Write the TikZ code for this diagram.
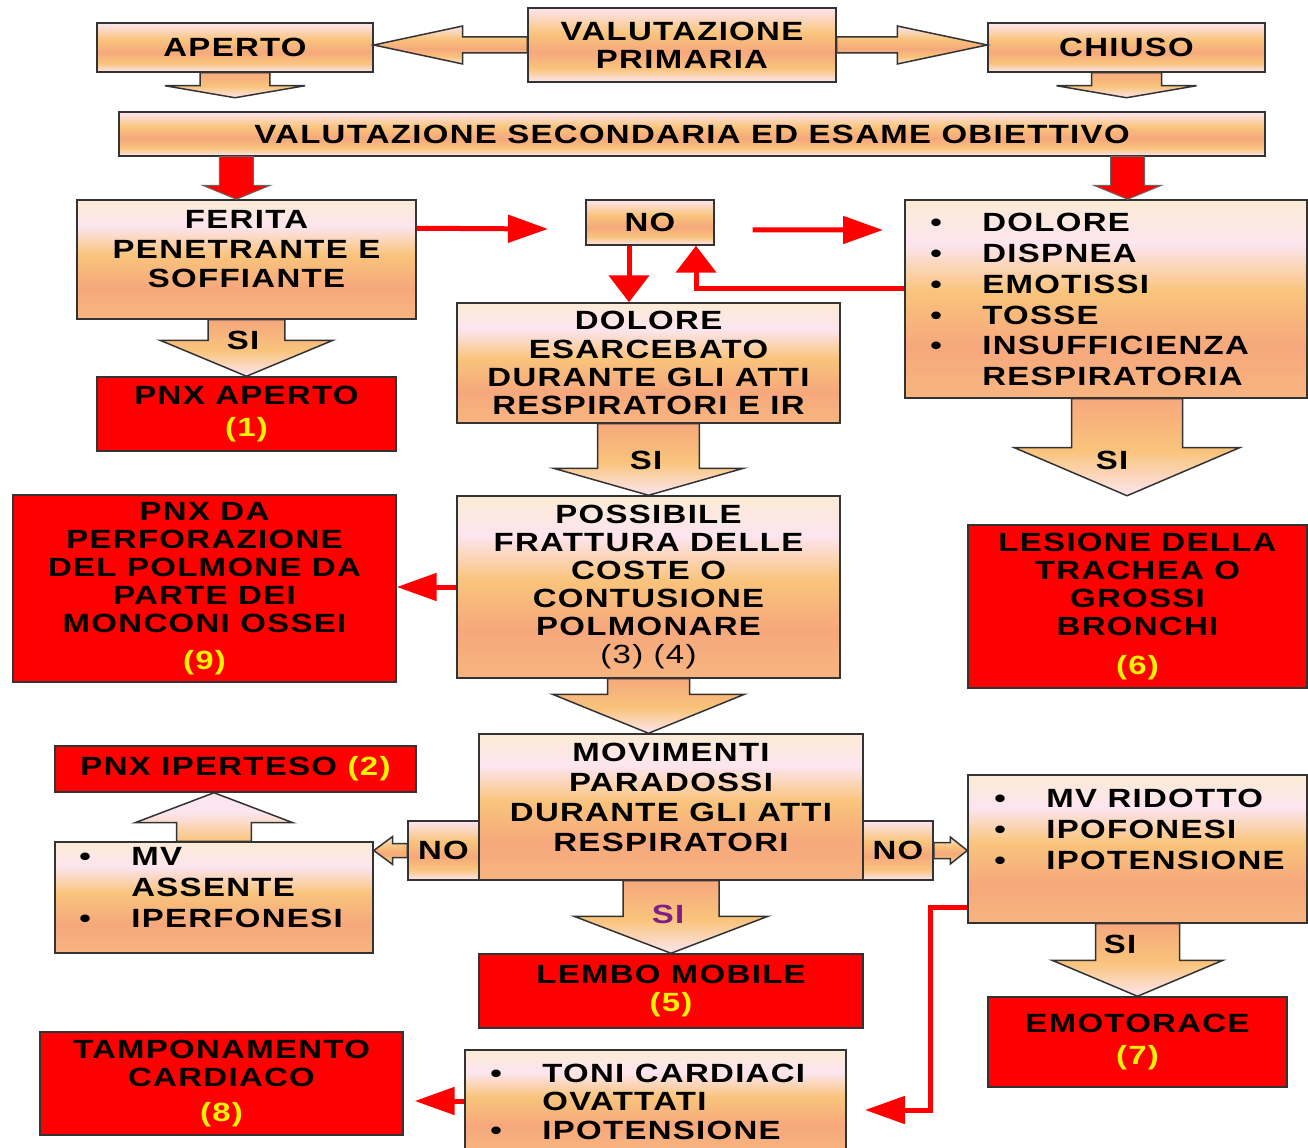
\documentclass[tikz,border=0pt]{standalone}
\usepackage{tikz}
\usepackage{fontspec}
\setmainfont{Liberation Sans}[FakeStretch=1.25, LetterSpace=5]
\usetikzlibrary{calc, arrows.meta}

\definecolor{pchtop}{HTML}{FCEBD5}
\definecolor{pchpink}{HTML}{FCE5EF}
\definecolor{pchmid}{HTML}{F9C47C}
\definecolor{pchlow}{HTML}{F6A87C}
\definecolor{pchbot}{HTML}{F7B580}
\definecolor{sipurple}{HTML}{7E1E86}

\pgfdeclareverticalshading{peach}{100bp}{color(0bp)=(pchbot); color(25bp)=(pchbot); color(38bp)=(pchlow); color(52bp)=(pchmid); color(64bp)=(pchpink); color(75bp)=(pchtop); color(100bp)=(pchtop)}
\pgfdeclareverticalshading{peachbar}{100bp}{color(0bp)=(pchpink); color(25bp)=(pchpink); color(34bp)=(pchmid); color(45bp)=(pchlow); color(58bp)=(pchmid); color(75bp)=(pchpink); color(100bp)=(pchpink)}
\pgfdeclareverticalshading{peachdown}{100bp}{color(0bp)=(pchpink); color(25bp)=(pchpink); color(48bp)=(pchmid); color(75bp)=(pchlow); color(100bp)=(pchlow)}
\pgfdeclareverticalshading{peachup}{100bp}{color(0bp)=(pchlow); color(25bp)=(pchmid); color(55bp)=(pchpink); color(75bp)=(pchpink); color(100bp)=(pchpink)}

\newcommand{\itm}{\makebox[1.04cm][l]{\textbullet}}
\newcommand{\itmx}{\hspace*{1.04cm}}
\newcommand{\blockarr}[6][arrdown]{%
        \coordinate (tmp_b) at ($(#3)!#6!(#2)$);
        \path[#1] ($(#2)!#4!90:(#3)$) -- ($(tmp_b)!#4!90:(#3)$) -- ($(tmp_b)!#5!90:(#3)$) -- (#3)
                -- ($(tmp_b)!#5!-90:(#3)$) -- ($(tmp_b)!#4!-90:(#3)$) -- ($(#2)!#4!-90:(#3)$) -- cycle;}

\begin{document}
\begin{tikzpicture}[x=0.02cm, y=-0.02cm, font=\fontsize{15}{16}\selectfont\bfseries,
        pbox/.style={draw=black!80, line width=0.03cm, shade, shading=peach, align=center, inner sep=0pt},
        pbar/.style={pbox, shading=peachbar},
        rbox/.style={draw=black!80, line width=0.03cm, fill=red, align=center, inner sep=0pt},
        ctxt/.style={anchor=north, inner sep=0pt, align=center, font=\fontsize{15}{17}\selectfont\bfseries},
        ltxt/.style={anchor=north west, inner sep=0pt, align=left, font=\fontsize{15}{17.6}\selectfont\bfseries},
        arrdown/.style={draw=black!80, line width=0.03cm, shade, shading=peachdown},
        arrup/.style={arrdown, shading=peachup},
        arrside/.style={arrdown, shading=peachbar},
        arrred/.style={draw=black!60, line width=0.02cm, fill=red},
        redh/.style={draw=red, line width=0.1cm, -{Triangle[length=0.8cm, width=0.54cm]}},
        redv/.style={draw=red, line width=0.1cm, -{Triangle[length=0.54cm, width=0.8cm]}}]

        \fill[white] (0,0) rectangle (1308,1148);
        \useasboundingbox (0,0) rectangle (1308,1148);

        \node[pbar, minimum width=5.52cm, minimum height=0.98cm](Ap) at (235, 47.5){APERTO};
        \node[pbar, minimum width=6.16cm, minimum height=1.48cm](VP) at (682, 45){VALUTAZIONE\\PRIMARIA};
        \node[pbar, minimum width=5.54cm, minimum height=0.98cm](Ch) at (1126.5, 47.5){CHIUSO};
        \node[pbar, minimum width=22.92cm, minimum height=0.88cm](VS) at (692, 134){VALUTAZIONE SECONDARIA ED ESAME OBIETTIVO};

        \node[pbox, minimum width=6.78cm, minimum height=2.38cm](Fer) at (246.5, 259.5){};
        \node[pbar, minimum width=2.56cm, minimum height=0.9cm](No) at (650, 222.5){NO};
        \node[pbox, minimum width=8.04cm, minimum height=3.96cm](Seg1) at (1106, 299){};
        \node[rbox, minimum width=5.98cm, minimum height=1.48cm](Pa) at (246.5, 414){PNX APERTO\\[2pt]\textcolor{yellow}{(1)}};
        \node[pbox, minimum width=7.66cm, minimum height=2.4cm](Dol) at (648.5, 363){DOLORE\\ESARCEBATO\\DURANTE GLI ATTI\\RESPIRATORI E IR};

        \node[rbox, minimum width=7.66cm, minimum height=3.74cm](Pd) at (204.5, 588.5){PNX DA\\PERFORAZIONE\\DEL POLMONE DA\\PARTE DEI\\MONCONI OSSEI\\[5pt]\textcolor{yellow}{(9)}};
        \node[pbox, minimum width=7.66cm, minimum height=3.64cm](Pos) at (648.5, 587){POSSIBILE\\FRATTURA DELLE\\COSTE O\\CONTUSIONE\\POLMONARE\\{\mdseries (3) (4)}};
        \node[rbox, minimum width=6.78cm, minimum height=3.26cm](Les) at (1137.5, 606.5){LESIONE DELLA\\TRACHEA O\\GROSSI\\BRONCHI\\[6pt]\textcolor{yellow}{(6)}};

        \node[rbox, minimum width=7.22cm, minimum height=0.92cm](Ip) at (235.5, 769){PNX IPERTESO \textcolor{yellow}{(2)}};
        \node[pbox, minimum width=7.68cm, minimum height=2.92cm](Mov) at (671, 807){};
        \node[pbar, minimum width=1.42cm, minimum height=1.18cm](NoL) at (443.5, 850.5){NO};
        \node[pbar, minimum width=1.4cm, minimum height=1.18cm](NoR) at (898, 850.5){NO};
        \node[pbox, minimum width=6.36cm, minimum height=2.22cm](Mvl) at (214, 897.5){};
        \node[pbox, minimum width=6.78cm, minimum height=2.96cm](Seg2) at (1137.5, 849){};
        \node[rbox, minimum width=7.68cm, minimum height=1.48cm](Le) at (671, 991){LEMBO MOBILE\\\textcolor{yellow}{(5)}};
        \node[rbox, minimum width=5.98cm, minimum height=1.8cm](Em) at (1137.5, 1042){EMOTORACE\\[2pt]\textcolor{yellow}{(7)}};
        \node[rbox, minimum width=7.26cm, minimum height=2.06cm](Tp) at (221.5, 1083.5){TAMPONAMENTO\\CARDIACO\\[4pt]\textcolor{yellow}{(8)}};
        \node[pbox, minimum width=7.62cm, minimum height=2.04cm](Toni) at (655.5, 1101){};

        \node[ctxt](Fer_t) at ($(Fer.north)+(0,10.5)$){FERITA\\PENETRANTE E\\SOFFIANTE};
        \node[ctxt](Mov_t) at ($(Mov.north)+(0,9.5)$){MOVIMENTI\\PARADOSSI\\DURANTE GLI ATTI\\RESPIRATORI};
        \node[ltxt](Seg1_t) at (930, 212.5){\itm DOLORE\\\itm DISPNEA\\\itm EMOTISSI\\\itm TOSSE\\\itm INSUFFICIENZA\\\itmx RESPIRATORIA};
        \node[ltxt](Seg2_t) at (994, 788.5){\itm MV RIDOTTO\\\itm IPOFONESI\\\itm IPOTENSIONE};
        \node[ltxt](Mvl_t) at (79, 847.5){\itm MV\\\itmx ASSENTE\\\itm IPERFONESI};
        \node[ltxt, font=\fontsize{15}{16.2}\selectfont\bfseries](Toni_t) at (490, 1063.5){\itm TONI CARDIACI\\\itmx OVATTATI\\\itm IPOTENSIONE};

        \coordinate (VP_l) at (VP.west -| Ap.east);
        \coordinate (VP_r) at (VP.east -| Ch.west);
        \blockarr[arrside]{VP.west}{VP_l}{0.16cm}{0.38cm}{1.78cm}
        \blockarr[arrside]{VP.east}{VP_r}{0.16cm}{0.38cm}{1.8cm}
        \coordinate (Ap_d) at ($(Ap.south)+(0,25)$);
        \coordinate (Ch_d) at ($(Ch.south)+(0,25)$);
        \blockarr{Ap.south}{Ap_d}{0.7cm}{1.4cm}{0.24cm}
        \blockarr{Ch.south}{Ch_d}{0.7cm}{1.4cm}{0.24cm}

        \coordinate (VS_l) at ($(VS.south west)+(118,0)$);
        \coordinate (VS_lb) at (VS_l |- Fer.north);
        \coordinate (VS_r) at ($(VS.south east)+(-138,0)$);
        \coordinate (VS_rb) at (VS_r |- Seg1.north);
        \blockarr[arrred]{VS_l}{VS_lb}{0.34cm}{0.68cm}{0.28cm}
        \blockarr[arrred]{VS_r}{VS_rb}{0.34cm}{0.68cm}{0.28cm}

        \blockarr{Fer.south}{Pa.north}{0.77cm}{1.73cm}{0.72cm}
        \blockarr{Dol.south}{Pos.north}{1.02cm}{1.9cm}{0.54cm}
        \coordinate (Pos_b) at (Pos.south |- Mov.north);
        \blockarr{Pos.south}{Pos_b}{0.82cm}{1.92cm}{0.78cm}
        \coordinate (Seg1_s) at ($(Seg1.south)+(21,0)$);
        \coordinate (Seg1_b) at ($(Seg1_s)+(0,97)$);
        \blockarr{Seg1_s}{Seg1_b}{1.11cm}{2.25cm}{0.96cm}
        \blockarr{Mov.south}{Le.north}{0.96cm}{1.94cm}{0.74cm}
        \blockarr{Seg2.south}{Em.north}{0.84cm}{1.71cm}{0.72cm}
        \coordinate (Mvl_b) at (Mvl.north |- Ip.south);
        \blockarr[arrup]{Mvl.north}{Mvl_b}{0.75cm}{1.58cm}{0.6cm}
        \coordinate (NoR_b) at (NoR.east -| Seg2.west);
        \blockarr[arrside]{NoR.east}{NoR_b}{0.16cm}{0.27cm}{0.34cm}
        \coordinate (NoL_b) at (NoL.west -| Mvl.east);
        \blockarr[arrside]{NoL.west}{NoL_b}{0.14cm}{0.28cm}{0.38cm}

        \node(Fer_si) at (243, 340){SI};
        \node(Dol_si) at (646, 460){SI};
        \node(Seg1_si) at (1112, 460){SI};
        \node[text=sipurple](Mov_si) at (668, 914){SI};
        \node(Seg2_si) at (1120, 944){SI};

        \coordinate (Fer_r) at (548, 229);
        \coordinate (No_r) at (883, 230);
        \coordinate (No_d) at ($(No.south)+(-21,0)$);
        \coordinate (Toni_r) at (865, 1110);
        \draw[redh] ($(Fer.north east)+(0,29)$) -- (Fer_r);
        \draw[redh, shorten <=0.76cm] ($(No.east)+(0,7.5)$) -- (No_r);
        \draw[redv] (No_d) -- (No_d |- Dol.north);
        \draw[redv] ($(Seg1.west)+(0,-10)$) -| ($(No.south)+(46,0)$);
        \draw[redh] (Pos.west) -- (Pos.west -| Pd.east);
        \draw[redh] ($(Seg2.west)+(0,58)$) -| ($(Toni_r)+(65,0)$) -- (Toni_r);
        \draw[redh, shorten >=0.22cm] (Toni.west) -- (Toni.west -| Tp.east);

    \end{tikzpicture}
\end{document}
